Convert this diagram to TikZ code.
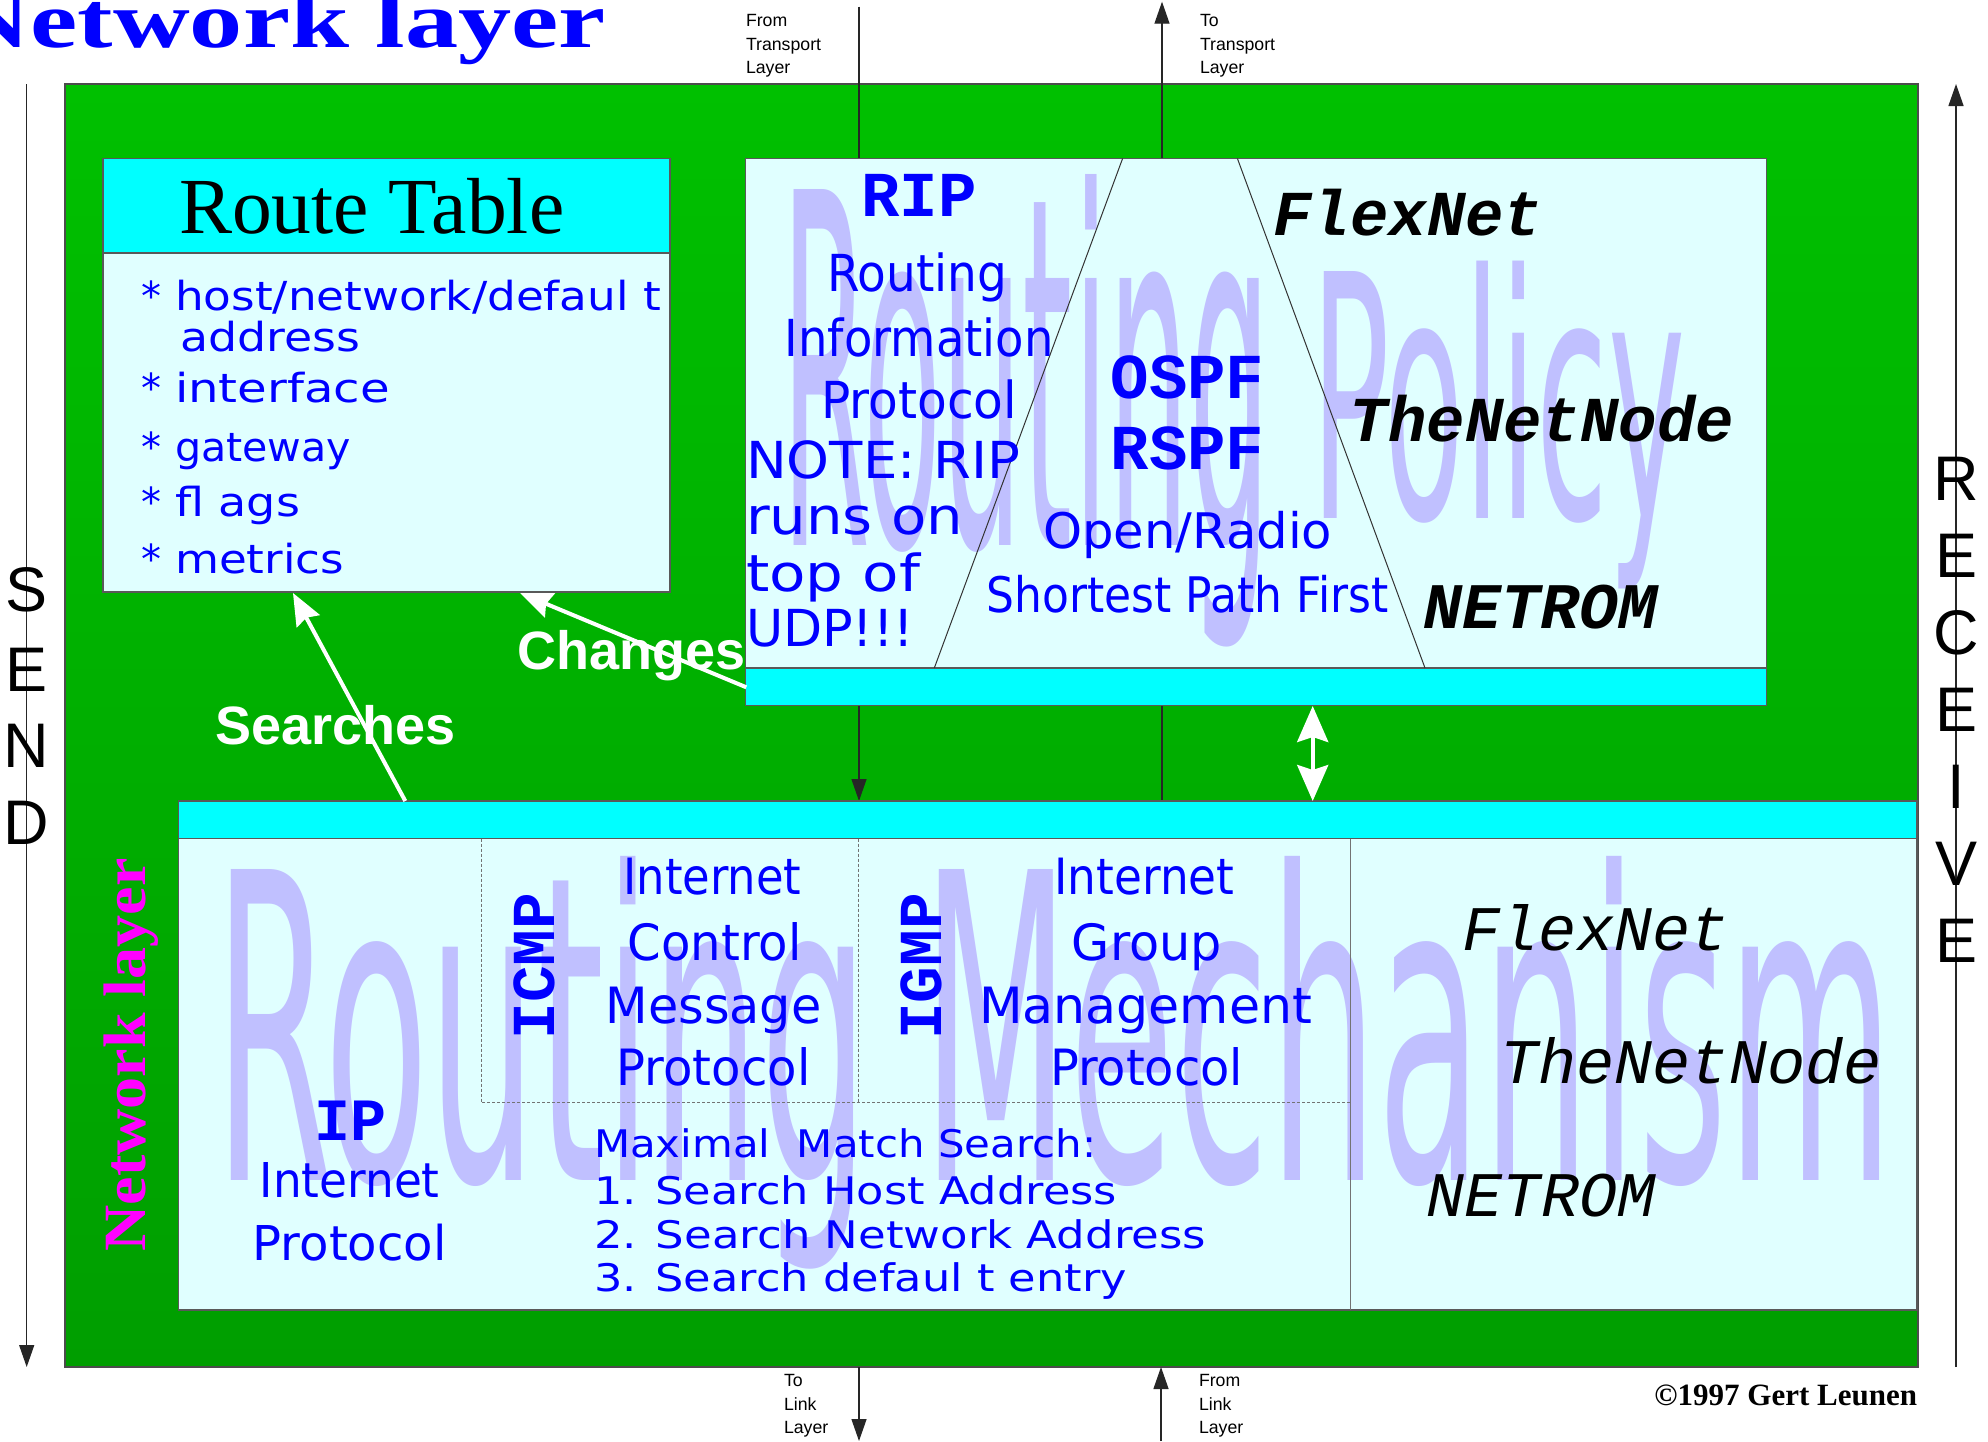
\documentclass[tikz,border=0pt]{standalone}
\usepackage{fontspec}
\usepackage{graphicx}
\usetikzlibrary{arrows.meta}
\setmainfont{Liberation Serif}
\newfontfamily\fsans{Liberation Sans}
\newfontfamily\fmono{Liberation Mono}
\newfontfamily\fdv{DejaVu Sans}
\IfFontExistsTF{Liberation Sans Narrow}
  {\newfontfamily\fwm{Liberation Sans Narrow}\def\wmcap{0.716}}
  {\IfFontExistsTF{DejaVu Sans Condensed}
    {\newfontfamily\fwm{DejaVu Sans Condensed}\def\wmcap{0.729}}
    {\newfontfamily\fwm{DejaVu Sans}\def\wmcap{0.729}}}
\newcommand\setfs[1]{\fontsize{#1}{#1}\selectfont}
\newcommand\wfit[2]{\resizebox{#1pt}{\height}{#2}}
\newcommand\wmsize[1]{\setfs{\fpeval{round(#1/\wmcap,2)}}}
\definecolor{lcyan}{RGB}{224,255,255}
\definecolor{cyanb}{RGB}{0,255,255}
\definecolor{wmcol}{RGB}{192,192,255}
\definecolor{gtop}{RGB}{0,192,0}
\definecolor{gbot}{RGB}{0,158,0}
\definecolor{bluet}{RGB}{0,0,255}
\definecolor{magt}{RGB}{255,0,255}
\tikzset{
 lbl/.style={inner sep=0pt,outer sep=0pt},
 bt/.style={lbl,text=bluet},
 dv/.style={bt,font={\fdv\setfs{#1}}},
 mb/.style={bt,anchor=base,font={\fmono\bfseries\setfs{#1}}},
 mbi/.style={lbl,anchor=base,font={\fmono\bfseries\itshape\setfs{#1}}},
 mi/.style={lbl,anchor=base,font={\fmono\itshape\setfs{#1}}},
 wm/.style={lbl,text=wmcol,font={\fwm\wmsize{#1}}},
 smalllbl/.style={lbl,anchor=base west,font={\fsans\setfs{17.7}}},
 biglbl/.style={lbl,anchor=base,font={\fsans\setfs{63}}},
 wlbl/.style={lbl,anchor=base,text=white,font={\fsans\bfseries\setfs{54}}},
 box/.style={draw=black!65,line width=1.2pt,fill=lcyan,inner sep=0pt,outer sep=0pt,anchor=north west},
 band/.style={box,fill=cyanb},
 flow/.style={draw=black!85,line width=1.3pt,-{Triangle[length=22pt,width=15pt]}},
 warrow/.style={draw=white,line width=4pt,-{Stealth[length=32pt,width=26pt,inset=4pt]}},
 dashln/.style={draw=black!55,line width=1pt,dash pattern=on 3pt off 2pt},
 divln/.style={draw=black!55,line width=1pt},
 trap/.style={draw=black!80,line width=1pt},
}
\begin{document}
\begin{tikzpicture}[x=1pt,y=-1pt]
\useasboundingbox (0,0) rectangle (1988,1441);
\fill[white] (0,0) rectangle (1988,1441);

% title
\node[bt,anchor=base west,font={\bfseries\setfs{80}}] (title) at (-46,47) {\wfit{652}{Network layer}};

% SEND
\coordinate (sendtop) at (26.7,84);
\coordinate (sendbot) at (26.7,1367);
\draw[flow] (sendtop) -- (sendbot);
\foreach \l/\y [count=\i] in {S/611,E/691,N/767,D/844}
  \node[biglbl] (send\i) at (26.7,\y) {\l};

% RECEIVE
\coordinate (recvbot) at (1956,1367);
\coordinate (recvtop) at (1956,84);
\draw[flow] (recvbot) -- (recvtop);
\foreach \l [count=\i] in {R,E,C,E,I,V,E}
  \node[biglbl] (recv\i) at (1956,{500+77*(\i-1)}) {\l};

% green area
\node[lbl,anchor=north west,minimum width=1853pt,minimum height=1283pt,
      top color=gtop,bottom color=gbot,draw=black!70,line width=1.5pt] (green) at (65,84) {};

% transport / link lines
\coordinate (ftTop) at (859,6.7);
\coordinate (ftEnd) at (859,801);
\coordinate (ttBot) at (1162,801);
\coordinate (ttTop) at (1162,1.7);
\draw[flow] (ftTop) -- (ftEnd);
\draw[flow] (ttBot) -- (ttTop);
\coordinate (tlTop) at (859,1367);
\coordinate (tlBot) at (859,1441);
\coordinate (flBot) at (1161,1441);
\coordinate (flTop) at (1161,1367);
\draw[flow] (tlTop) -- (tlBot);
\draw[flow] (flBot) -- (flTop);

\node[smalllbl] (ft1) at (746,26.7) {From};
\node[smalllbl] (ft2) at (746,50) {Transport};
\node[smalllbl] (ft3) at (746,73.3) {Layer};
\node[smalllbl] (tt1) at (1200,26.7) {To};
\node[smalllbl] (tt2) at (1200,50) {Transport};
\node[smalllbl] (tt3) at (1200,73.3) {Layer};
\node[smalllbl] (tl1) at (784,1386.7) {To};
\node[smalllbl] (tl2) at (784,1410) {Link};
\node[smalllbl] (tl3) at (784,1433.3) {Layer};
\node[smalllbl] (fl1) at (1199,1386.7) {From};
\node[smalllbl] (fl2) at (1199,1410) {Link};
\node[smalllbl] (fl3) at (1199,1433.3) {Layer};

% Route table
\node[box,minimum width=567pt,minimum height=433.5pt] (rt) at (103,158.5) {};
\node[band,minimum width=567pt,minimum height=94.5pt] (rthead) at (103,158.5) {};
\node[lbl,anchor=base west,font={\setfs{79.5}}] (rttitle) at (179,233.3) {Route Table};
\foreach \y [count=\i] in {310,402.3,461.7,516.7,573.3}
  \node[dv=40,anchor=base] (ast\i) at (151,\y) {*};
\node[dv=40,anchor=base west] (it1) at (175,310) {\wfit{486}{host/network/defaul t}};
\node[dv=40,anchor=base west] (it2) at (180,351.7) {\wfit{180}{address}};
\node[dv=40,anchor=base west] (it3) at (175,402.3) {\wfit{215}{interface}};
\node[dv=40,anchor=base west] (it4) at (175,461.7) {\wfit{176}{gateway}};
\node[dv=40,anchor=base west] (it5) at (175,516.7) {\wfit{125}{fl ags}};
\node[dv=40,anchor=base west] (it6) at (175,573.3) {\wfit{169}{metrics}};

% Policy box
\node[box,minimum width=1020.5pt,minimum height=509.5pt] (pol) at (745.6,158.5) {};
\begin{scope}
\clip (pol.north west) rectangle (pol.south east);
\node[wm=356,anchor=base west] (wmA) at (781,545) {\wfit{490}{Routing}};
\node[wm=247,anchor=base west] (wmB) at (1311,518) {\wfit{374}{Policy}};
\end{scope}
\node[band,minimum width=1020.5pt,minimum height=37.5pt] (polband) at (745.6,668) {};
\coordinate (trA1) at (1122.6,158.5);
\coordinate (trA2) at (934.3,668);
\coordinate (trB1) at (1237.4,158.5);
\coordinate (trB2) at (1425,668);
\draw[trap] (trA1) -- (trA2);
\draw[trap] (trB1) -- (trB2);

\node[mb=64] (rip) at (919,216) {RIP};
\node[dv=51,anchor=base] (rip1) at (917.4,291) {\wfit{180}{Routing}};
\node[dv=51,anchor=base] (rip2) at (919,356.4) {\wfit{269}{Information}};
\node[dv=51,anchor=base] (rip3) at (919,418) {\wfit{196}{Protocol}};
\node[dv=51,anchor=base west] (note1) at (746,478.6) {\wfit{274}{NOTE: RIP}};
\node[dv=51,anchor=base west] (note2) at (746,534) {\wfit{217}{runs on}};
\node[dv=51,anchor=base west] (note3) at (746,591) {\wfit{174}{top of}};
\node[dv=51,anchor=base west] (note4) at (746,646.4) {\wfit{168}{UDP!!!}};
\node[mb=64] (ospf) at (1187.5,398) {OSPF};
\node[mb=64] (rspf) at (1187.5,469.6) {RSPF};
\node[dv=49,anchor=base] (os1) at (1187.6,548) {\wfit{289}{Open/Radio}};
\node[dv=49,anchor=base] (os2) at (1187.6,612.5) {\wfit{402}{Shortest Path First}};
\node[mbi=64] (pflex) at (1408,235.7) {FlexNet};
\node[mbi=64] (ptnn) at (1542,441) {TheNetNode};
\node[mbi=65] (pnet) at (1540.7,628.6) {NETROM};

% Mechanism box
\node[box,minimum width=1738.5pt,minimum height=509pt] (mech) at (178.5,801) {};
\begin{scope}
\clip (mech.north west) rectangle (mech.south east);
\node[wm=311,anchor=base west] (wmC) at (214,1180) {\wfit{1680}{Routing Mechanism}};
\end{scope}
\node[band,minimum width=1738.5pt,minimum height=37.5pt] (mechband) at (178.5,801) {};
\coordinate (dv1) at (1350.7,838.5);
\coordinate (dv2) at (1350.7,1310);
\draw[divln] (dv1) -- (dv2);
\coordinate (da1) at (481.2,838.5);
\coordinate (da2) at (481.2,1102.7);
\coordinate (da3) at (1350.7,1102.7);
\coordinate (db1) at (858.8,838.5);
\coordinate (db2) at (858.8,1102.7);
\draw[dashln] (da1) -- (da2) -- (da3);
\draw[dashln] (db1) -- (db2);

\node[mb=61,rotate=90] (icmp) at (554.8,966) {ICMP};
\node[mb=61,rotate=90] (igmp) at (941,966.5) {IGMP};
\node[dv=50,anchor=base] (ic1) at (712.5,894.8) {\wfit{178}{Internet}};
\node[dv=50,anchor=base] (ic2) at (714.7,960) {\wfit{174}{Control}};
\node[dv=50,anchor=base] (ic3) at (713.5,1023) {\wfit{216}{Message}};
\node[dv=50,anchor=base] (ic4) at (713.5,1085.5) {\wfit{194}{Protocol}};
\node[dv=50,anchor=base] (ig1) at (1144.4,894.8) {\wfit{180}{Internet}};
\node[dv=50,anchor=base] (ig2) at (1146.8,960) {\wfit{150}{Group}};
\node[dv=50,anchor=base] (ig3) at (1145.5,1023) {\wfit{333}{Management}};
\node[dv=50,anchor=base] (ig4) at (1146.5,1085.5) {\wfit{193}{Protocol}};
\node[mb=60] (ip) at (350.8,1140.5) {IP};
\node[dv=48,anchor=base] (ip1) at (349.7,1197.2) {\wfit{180}{Internet}};
\node[dv=48,anchor=base] (ip2) at (349.7,1260.8) {\wfit{194}{Protocol}};
\node[dv=38,anchor=base west] (mx1) at (594,1157.7) {\wfit{502}{Maximal\ \ Match Search:}};
\node[dv=38,anchor=base west] (mx2) at (594,1204) {\wfit{523}{1. Search Host Address}};
\node[dv=38,anchor=base west] (mx3) at (594,1248.8) {\wfit{612}{2. Search Network Address}};
\node[dv=38,anchor=base west] (mx4) at (594,1291.7) {\wfit{533}{3. Search defaul t entry}};
\node[mi=63.5] (mflex) at (1595.5,950.8) {FlexNet};
\node[mi=63.5] (mtnn) at (1691,1083.8) {TheNetNode};
\node[mi=63.5] (mnet) at (1541,1216) {NETROM};

% network layer vertical label
\node[lbl,anchor=base,rotate=90,text=magt,font={\bfseries\setfs{60}}] (nlv) at (145,1055) {\wfit{393}{Network layer}};

% white arrows
\coordinate (s1) at (405.3,801);
\coordinate (s2) at (293,593);
\draw[warrow] (s1) -- (s2);
\coordinate (c1) at (746.3,687.3);
\coordinate (c2) at (520.2,593);
\draw[warrow] (c1) -- (c2);
\node[wlbl] (searches) at (335.5,744) {Searches};
\node[wlbl] (changes) at (631.7,669.3) {Changes};
\coordinate (d1) at (1312.7,706);
\coordinate (d2) at (1312.7,801);
\draw[draw=white,line width=4pt,{Stealth[length=36pt,width=31pt,inset=5pt]}-{Stealth[length=36pt,width=31pt,inset=5pt]}] (d1) -- (d2);

% copyright
\node[lbl,anchor=base east,font={\bfseries\setfs{31}}] (copy) at (1917,1405) {©1997 Gert Leunen};
\end{tikzpicture}
\end{document}
